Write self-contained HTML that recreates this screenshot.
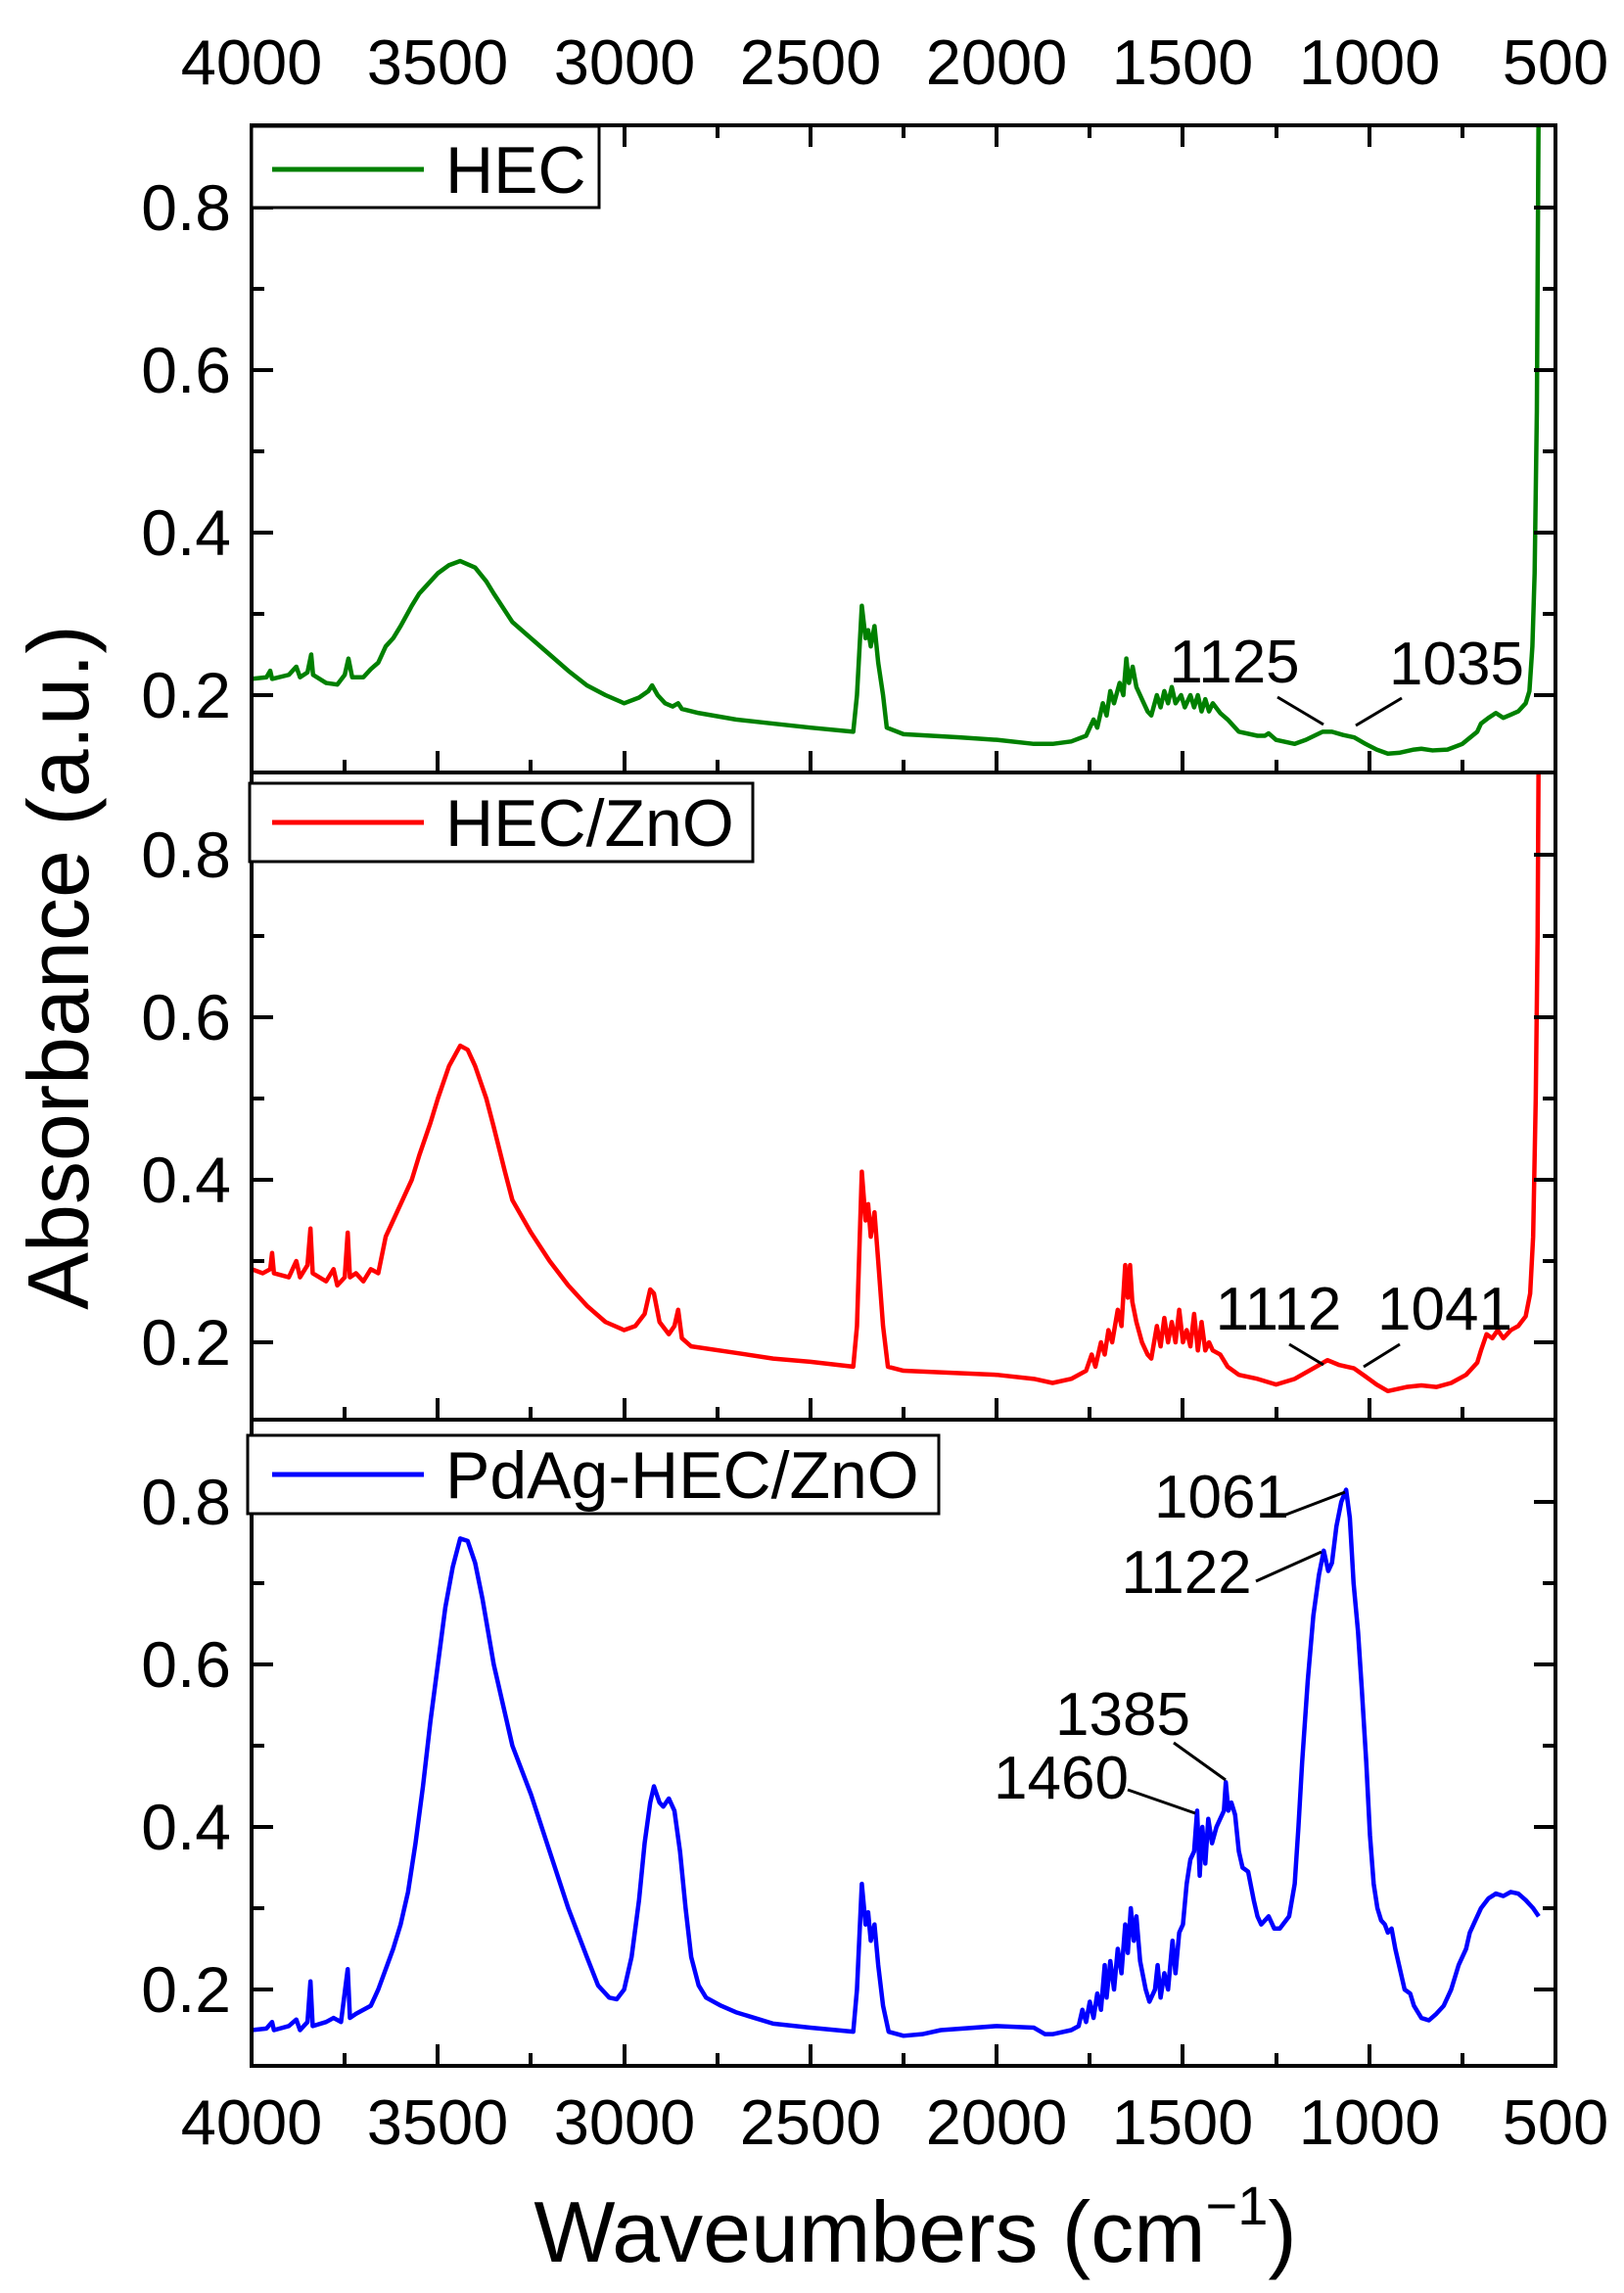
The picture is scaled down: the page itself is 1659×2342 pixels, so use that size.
<!DOCTYPE html>
<html><head><meta charset="utf-8"><style>
html,body{margin:0;padding:0;background:#fff}
svg{display:block}
text{font-family:"Liberation Sans",Arial,sans-serif;fill:#000}
</style></head><body>
<svg width="1659" height="2342" viewBox="0 0 1659 2342" xmlns="http://www.w3.org/2000/svg">
<defs>
<clipPath id="c1"><rect x="257" y="128" width="1332" height="661"/></clipPath>
<clipPath id="c2"><rect x="257" y="789" width="1332" height="661"/></clipPath>
<clipPath id="c3"><rect x="257" y="1450" width="1332" height="661"/></clipPath>
</defs>

<g clip-path="url(#c1)">
<g transform="translate(1779.3,876) scale(-0.38057,-830)">
<polyline fill="none" stroke="#008000" stroke-width="4.5" vector-effect="non-scaling-stroke" stroke-linejoin="round" points="
4000,0.22 3960,0.222 3950,0.23 3945,0.22 3900,0.225 3880,0.235 3870,0.222 3850,0.228 3840,0.25 3835,0.225 3800,0.215 3770,0.213 3750,0.225 3740,0.245 3730,0.222 3700,0.222 3680,0.232 3660,0.24 3640,0.26 3620,0.27 3600,0.285 3570,0.31 3550,0.325 3520,0.34 3500,0.35 3470,0.36 3440,0.365 3400,0.357 3370,0.34 3350,0.325 3300,0.29 3250,0.27 3200,0.25 3150,0.23 3100,0.212 3050,0.2 3000,0.19 2960,0.197 2935,0.205 2925,0.212 2910,0.2 2890,0.19 2870,0.186 2855,0.19 2845,0.183 2800,0.178 2700,0.17 2600,0.165 2500,0.16 2385,0.155 2375,0.2 2362,0.31 2352,0.27 2345,0.28 2338,0.26 2328,0.285 2318,0.24 2305,0.2 2295,0.16 2250,0.152 2100,0.148 2000,0.145 1900,0.14 1850,0.14 1800,0.143 1760,0.15 1740,0.17 1730,0.16 1715,0.19 1705,0.175 1695,0.205 1685,0.19 1670,0.215 1660,0.2 1652,0.245 1645,0.215 1635,0.235 1625,0.21 1610,0.195 1595,0.18 1585,0.175 1570,0.2 1560,0.185 1550,0.205 1540,0.19 1530,0.21 1520,0.19 1505,0.2 1495,0.185 1480,0.2 1470,0.185 1460,0.2 1450,0.18 1440,0.195 1430,0.18 1420,0.19 1400,0.178 1380,0.17 1350,0.155 1300,0.15 1280,0.15 1270,0.153 1250,0.145 1200,0.14 1170,0.145 1125,0.155 1100,0.155 1070,0.151 1040,0.148 1010,0.14 980,0.133 950,0.128 920,0.129 880,0.133 860,0.134 830,0.132 790,0.133 750,0.14 710,0.155 700,0.165 680,0.172 660,0.178 640,0.172 620,0.176 600,0.18 580,0.19 570,0.205 562,0.26 556,0.35 550,0.55 545,0.95"/>
</g></g>

<g clip-path="url(#c2)">
<g transform="translate(1779.3,1537) scale(-0.38057,-830)">
<polyline fill="none" stroke="#ff0000" stroke-width="4.5" vector-effect="non-scaling-stroke" stroke-linejoin="round" points="
4000,0.29 3970,0.285 3950,0.29 3945,0.31 3940,0.285 3900,0.28 3880,0.3 3870,0.28 3850,0.295 3842,0.34 3836,0.285 3800,0.275 3780,0.29 3770,0.27 3750,0.28 3742,0.335 3736,0.28 3720,0.285 3700,0.275 3680,0.29 3660,0.285 3640,0.33 3620,0.35 3600,0.37 3570,0.4 3550,0.43 3520,0.47 3500,0.5 3470,0.54 3440,0.565 3420,0.56 3400,0.54 3370,0.5 3350,0.465 3320,0.41 3300,0.375 3250,0.335 3200,0.3 3150,0.27 3100,0.245 3050,0.225 3000,0.215 2970,0.22 2945,0.235 2930,0.265 2920,0.26 2905,0.225 2880,0.21 2865,0.22 2855,0.24 2845,0.205 2820,0.195 2700,0.187 2600,0.18 2500,0.176 2385,0.17 2375,0.22 2362,0.41 2352,0.35 2345,0.37 2338,0.33 2328,0.36 2318,0.3 2305,0.22 2292,0.17 2250,0.165 2100,0.162 2000,0.16 1900,0.155 1850,0.15 1800,0.155 1760,0.165 1745,0.185 1735,0.17 1720,0.2 1710,0.185 1700,0.215 1690,0.2 1675,0.24 1665,0.22 1655,0.295 1648,0.255 1642,0.295 1636,0.25 1625,0.225 1610,0.2 1595,0.185 1585,0.18 1570,0.22 1560,0.195 1550,0.23 1540,0.2 1530,0.225 1520,0.2 1510,0.24 1500,0.2 1490,0.215 1480,0.195 1470,0.235 1460,0.19 1450,0.225 1440,0.19 1430,0.2 1420,0.19 1400,0.185 1380,0.17 1350,0.16 1300,0.155 1250,0.148 1200,0.155 1150,0.168 1112,0.178 1080,0.172 1041,0.168 1010,0.158 980,0.148 950,0.14 900,0.145 860,0.147 820,0.145 780,0.15 740,0.16 710,0.175 700,0.19 685,0.21 670,0.205 655,0.215 640,0.205 620,0.215 600,0.22 580,0.232 568,0.26 560,0.33 553,0.5 548,0.7 545,0.95"/>
</g></g>

<g clip-path="url(#c3)">
<g transform="translate(1779.3,2198) scale(-0.38057,-830)">
<polyline fill="none" stroke="#0000ff" stroke-width="4.5" vector-effect="non-scaling-stroke" stroke-linejoin="round" points="
4000,0.15 3960,0.152 3945,0.16 3940,0.15 3900,0.155 3880,0.163 3870,0.15 3850,0.16 3842,0.21 3836,0.155 3800,0.16 3780,0.165 3760,0.16 3742,0.225 3736,0.165 3720,0.17 3700,0.175 3680,0.18 3660,0.2 3640,0.225 3620,0.25 3600,0.28 3580,0.32 3560,0.38 3540,0.45 3520,0.53 3500,0.6 3480,0.67 3460,0.72 3440,0.755 3420,0.752 3400,0.725 3380,0.68 3350,0.6 3320,0.54 3300,0.5 3250,0.44 3200,0.37 3150,0.3 3100,0.24 3070,0.205 3040,0.19 3020,0.188 3000,0.2 2980,0.24 2960,0.31 2945,0.38 2930,0.43 2920,0.45 2905,0.43 2895,0.425 2880,0.435 2865,0.42 2850,0.37 2835,0.3 2820,0.24 2800,0.205 2780,0.19 2740,0.18 2700,0.172 2650,0.165 2600,0.158 2500,0.153 2385,0.148 2375,0.2 2362,0.33 2352,0.28 2345,0.295 2338,0.26 2328,0.28 2318,0.23 2305,0.18 2290,0.148 2250,0.143 2200,0.145 2150,0.15 2000,0.155 1900,0.153 1870,0.145 1850,0.145 1800,0.15 1780,0.155 1770,0.175 1760,0.16 1750,0.185 1740,0.165 1730,0.195 1720,0.175 1710,0.23 1705,0.19 1695,0.235 1685,0.2 1675,0.25 1665,0.22 1655,0.28 1648,0.245 1640,0.3 1632,0.26 1625,0.29 1615,0.235 1600,0.2 1590,0.185 1575,0.2 1568,0.23 1560,0.19 1550,0.22 1540,0.2 1528,0.26 1520,0.22 1510,0.27 1500,0.28 1490,0.33 1480,0.36 1470,0.37 1462,0.42 1455,0.34 1448,0.4 1440,0.355 1432,0.41 1422,0.38 1410,0.4 1400,0.41 1390,0.42 1385,0.455 1378,0.42 1370,0.43 1360,0.415 1350,0.37 1340,0.35 1325,0.345 1310,0.31 1300,0.29 1290,0.28 1270,0.29 1255,0.275 1240,0.275 1215,0.29 1200,0.33 1190,0.4 1180,0.48 1165,0.58 1150,0.66 1135,0.71 1122,0.74 1110,0.715 1100,0.725 1088,0.77 1075,0.8 1062,0.815 1052,0.78 1042,0.7 1030,0.64 1020,0.57 1008,0.48 998,0.39 988,0.33 978,0.3 968,0.285 958,0.28 950,0.27 940,0.275 930,0.25 920,0.23 905,0.2 890,0.195 880,0.18 860,0.165 840,0.162 820,0.17 800,0.18 790,0.19 780,0.2 760,0.23 740,0.25 730,0.27 720,0.28 700,0.3 680,0.312 660,0.318 640,0.315 620,0.32 600,0.318 580,0.31 560,0.3 545,0.29"/>
</g></g>

<g fill="none" stroke="#000" stroke-width="4">
<rect x="257" y="128" width="1332" height="1982"/>
<line x1="257" y1="789" x2="1589" y2="789"/>
<line x1="257" y1="1450" x2="1589" y2="1450"/>
</g>

<g stroke="#000" stroke-width="4">
<path d="M447,128v22 M638,128v22 M828,128v22 M1018,128v22 M1208,128v22 M1399,128v22
M352,128v13 M542,128v13 M733,128v13 M923,128v13 M1113,128v13 M1304,128v13 M1494,128v13"/>
<path d="M447,789v-22 M638,789v-22 M828,789v-22 M1018,789v-22 M1208,789v-22 M1399,789v-22
M352,789v-13 M542,789v-13 M733,789v-13 M923,789v-13 M1113,789v-13 M1304,789v-13 M1494,789v-13"/>
<path d="M447,1450v-22 M638,1450v-22 M828,1450v-22 M1018,1450v-22 M1208,1450v-22 M1399,1450v-22
M352,1450v-13 M542,1450v-13 M733,1450v-13 M923,1450v-13 M1113,1450v-13 M1304,1450v-13 M1494,1450v-13"/>
<path d="M447,2110v-22 M638,2110v-22 M828,2110v-22 M1018,2110v-22 M1208,2110v-22 M1399,2110v-22
M352,2110v-13 M542,2110v-13 M733,2110v-13 M923,2110v-13 M1113,2110v-13 M1304,2110v-13 M1494,2110v-13"/>
</g>

<g stroke="#000" stroke-width="4">
<path d="M257,212h22 M257,378h22 M257,544h22 M257,710h22 M257,295h13 M257,461h13 M257,627h13
M1589,212h-22 M1589,378h-22 M1589,544h-22 M1589,710h-22 M1589,295h-13 M1589,461h-13 M1589,627h-13"/>
<path d="M257,873h22 M257,1039h22 M257,1205h22 M257,1371h22 M257,956h13 M257,1122h13 M257,1288h13
M1589,873h-22 M1589,1039h-22 M1589,1205h-22 M1589,1371h-22 M1589,956h-13 M1589,1122h-13 M1589,1288h-13"/>
<path d="M257,1534h22 M257,1700h22 M257,1866h22 M257,2032h22 M257,1617h13 M257,1783h13 M257,1949h13
M1589,1534h-22 M1589,1700h-22 M1589,1866h-22 M1589,2032h-22 M1589,1617h-13 M1589,1783h-13 M1589,1949h-13"/>
</g>

<g font-size="66" text-anchor="end">
<text x="236" y="235">0.8</text><text x="236" y="401">0.6</text><text x="236" y="567">0.4</text><text x="236" y="733">0.2</text>
<text x="236" y="896">0.8</text><text x="236" y="1062">0.6</text><text x="236" y="1228">0.4</text><text x="236" y="1394">0.2</text>
<text x="236" y="1557">0.8</text><text x="236" y="1723">0.6</text><text x="236" y="1889">0.4</text><text x="236" y="2055">0.2</text>
</g>

<g font-size="65" text-anchor="middle">
<text x="257" y="86">4000</text><text x="447" y="86">3500</text><text x="638" y="86">3000</text><text x="828" y="86">2500</text><text x="1018" y="86">2000</text><text x="1208" y="86">1500</text><text x="1399" y="86">1000</text><text x="1589" y="86">500</text>
<text x="257" y="2190">4000</text><text x="447" y="2190">3500</text><text x="638" y="2190">3000</text><text x="828" y="2190">2500</text><text x="1018" y="2190">2000</text><text x="1208" y="2190">1500</text><text x="1399" y="2190">1000</text><text x="1589" y="2190">500</text>
</g>

<text x="935" y="2310" font-size="88" text-anchor="middle">Waveumbers (cm<tspan font-size="56" dy="-38">−1</tspan><tspan dy="38">)</tspan></text>
<text transform="translate(90,988) rotate(-90)" font-size="88" text-anchor="middle">Absorbance (a.u.)</text>

<g stroke="#000" stroke-width="3" fill="#fff">
<rect x="257" y="129" width="355" height="83"/>
<rect x="255" y="800" width="514" height="80"/>
<rect x="253" y="1466" width="706" height="80"/>
</g>
<line x1="278" y1="173" x2="433" y2="173" stroke="#008000" stroke-width="5"/>
<line x1="278" y1="840" x2="433" y2="840" stroke="#ff0000" stroke-width="5"/>
<line x1="278" y1="1506" x2="433" y2="1506" stroke="#0000ff" stroke-width="5"/>
<g font-size="68">
<text x="455" y="197">HEC</text>
<text x="455" y="864">HEC/ZnO</text>
<text x="455" y="1530">PdAg-HEC/ZnO</text>
</g>

<g font-size="62" text-anchor="middle">
<text x="1261" y="697">1125</text><text x="1488" y="699">1035</text>
<text x="1306" y="1358">1112</text><text x="1476" y="1358">1041</text>
<text x="1248" y="1550">1061</text><text x="1212" y="1627">1122</text>
<text x="1147" y="1772">1385</text><text x="1084" y="1837">1460</text>
</g>
<g stroke="#000" stroke-width="3">
<line x1="1305" y1="712" x2="1352" y2="740"/>
<line x1="1432" y1="713" x2="1385" y2="741"/>
<line x1="1317" y1="1373" x2="1352" y2="1394"/>
<line x1="1430" y1="1373" x2="1393" y2="1396"/>
<line x1="1311" y1="1548" x2="1374" y2="1524"/>
<line x1="1283" y1="1615" x2="1350" y2="1585"/>
<line x1="1199" y1="1780" x2="1252" y2="1818"/>
<line x1="1152" y1="1828" x2="1221" y2="1852"/>
</g>
</svg>
</body></html>
